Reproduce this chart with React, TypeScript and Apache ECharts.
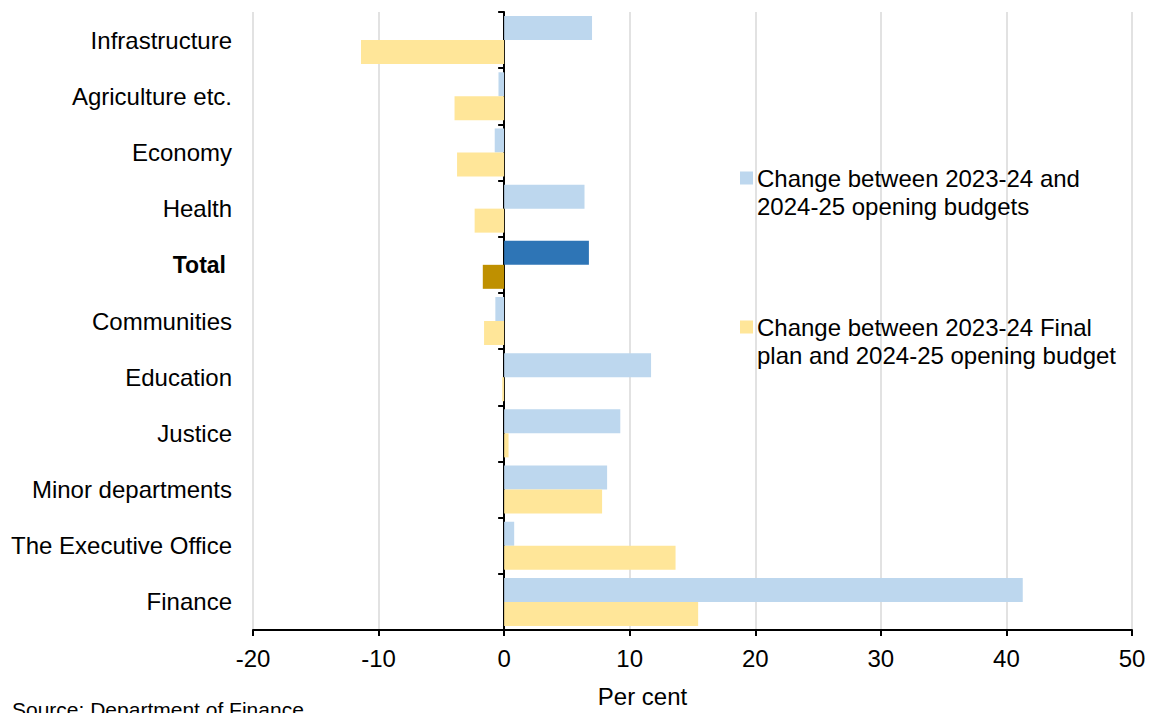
import React, { useEffect, useRef } from "react";
import * as echarts from "echarts";

const categories = [
  "Infrastructure",
  "Agriculture etc.",
  "Economy",
  "Health",
  "Total",
  "Communities",
  "Education",
  "Justice",
  "Minor departments",
  "The Executive Office",
  "Finance",
];

const openingChange = [7.0, -0.45, -0.75, 6.4, 6.75, -0.7, 11.7, 9.25, 8.2, 0.8, 41.3];
const finalPlanChange = [-11.4, -3.95, -3.75, -2.35, -1.7, -1.6, -0.15, 0.35, 7.8, 13.65, 15.45];

const xTicks = { min: -20, max: 50, interval: 10 };

const seriesNames = [
  "Change between 2023-24 and\n2024-25 opening budgets",
  "Change between 2023-24 Final\nplan and 2024-25 opening budget",
];

const FONT = "Liberation Sans, Arial, sans-serif";
const FS = 24;
const LIGHT_BLUE = "#BDD7EE";
const DARK_BLUE = "#2E75B6";
const LIGHT_YELLOW = "#FFE699";
const DARK_YELLOW = "#BF9000";

const legendIcon = "path://M0,0 L13,0 L13,13 L0,13 Z M0,41 L0.01,41 L0.01,41.01 L0,41.01 Z";

export default function App() {
  const ref = useRef<HTMLDivElement>(null);
  useEffect(() => {
    if (!ref.current) return;
    const chart = echarts.init(ref.current, null, { renderer: "svg" });
    const mk = (vals: number[], light: string, dark: string) =>
      vals.map((v, i) => ({
        value: v,
        itemStyle: { color: categories[i] === "Total" ? dark : light },
      }));
    const legendText = { fontSize: FS, lineHeight: 28, color: "#000", fontFamily: FONT, padding: [0, 0, 0, -1] };
    chart.setOption({
      animation: false,
      textStyle: { fontFamily: FONT },
      grid: { left: 253, right: 20, top: 12, bottom: 79, containLabel: false },
      legend: [
        {
          data: [{ name: seriesNames[0], itemStyle: { color: LIGHT_BLUE } }],
          left: 740,
          top: 164,
          orient: "vertical",
          icon: legendIcon,
          itemWidth: 13,
          itemHeight: 41,
          padding: 0,
          selectedMode: false,
          textStyle: legendText,
        },
        {
          data: [{ name: seriesNames[1], itemStyle: { color: LIGHT_YELLOW } }],
          left: 740,
          top: 313,
          orient: "vertical",
          icon: legendIcon,
          itemWidth: 13,
          itemHeight: 41,
          padding: 0,
          selectedMode: false,
          textStyle: legendText,
        },
      ],
      xAxis: {
        type: "value",
        min: xTicks.min,
        max: xTicks.max,
        interval: xTicks.interval,
        name: "Per cent",
        nameLocation: "middle",
        nameGap: 54,
        nameTextStyle: { fontSize: FS, color: "#000", fontFamily: FONT, padding: [0, 100, 0, 0] },
        axisLine: { show: true, onZero: false, lineStyle: { color: "#000", width: 2 } },
        axisTick: { show: true, length: 6, lineStyle: { color: "#000", width: 2 } },
        axisLabel: { fontSize: FS, color: "#000", margin: 16, fontFamily: FONT },
        splitLine: { show: true, lineStyle: { color: "#D9D9D9", width: 1.5 } },
      },
      yAxis: [
        {
          type: "category",
          data: categories,
          inverse: true,
          position: "left",
          axisLine: { show: false, onZero: false },
          axisTick: { show: false },
          axisLabel: {
            fontSize: FS,
            color: "#000",
            margin: 21,
            fontFamily: FONT,
            formatter: (v: string) => (v === "Total" ? "{b|" + v + "}" : v),
            rich: { b: { fontWeight: "bold", fontSize: FS - 1, fontFamily: FONT, color: "#000", padding: [0, 6, 0, 0] } },
          },
        },
        {
          type: "category",
          data: categories,
          inverse: true,
          position: "left",
          axisLine: { show: true, onZero: true, lineStyle: { color: "#000", width: 2 } },
          axisTick: { show: true, length: 6, alignWithLabel: false, lineStyle: { color: "#000", width: 2 } },
          axisLabel: { show: false },
          splitLine: { show: false },
        },
      ],
      series: [
        {
          name: seriesNames[0],
          type: "bar",
          yAxisIndex: 0,
          data: mk(openingChange, LIGHT_BLUE, DARK_BLUE),
          barWidth: 24,
          barGap: "0%",
          itemStyle: { color: LIGHT_BLUE },
        },
        {
          name: seriesNames[1],
          type: "bar",
          yAxisIndex: 0,
          data: mk(finalPlanChange, LIGHT_YELLOW, DARK_YELLOW),
          barWidth: 24,
          barGap: "0%",
          itemStyle: { color: LIGHT_YELLOW },
        },
      ],
      graphic: [
        {
          type: "text",
          left: 12,
          top: 699,
          style: { text: "Source: Department of Finance", fontSize: 21, fill: "#000", fontFamily: FONT },
        },
      ],
    });
    return () => chart.dispose();
  }, []);
  return <div ref={ref} style={{ width: 1152, height: 713, position: "absolute", left: 0, top: 0 }} />;
}
